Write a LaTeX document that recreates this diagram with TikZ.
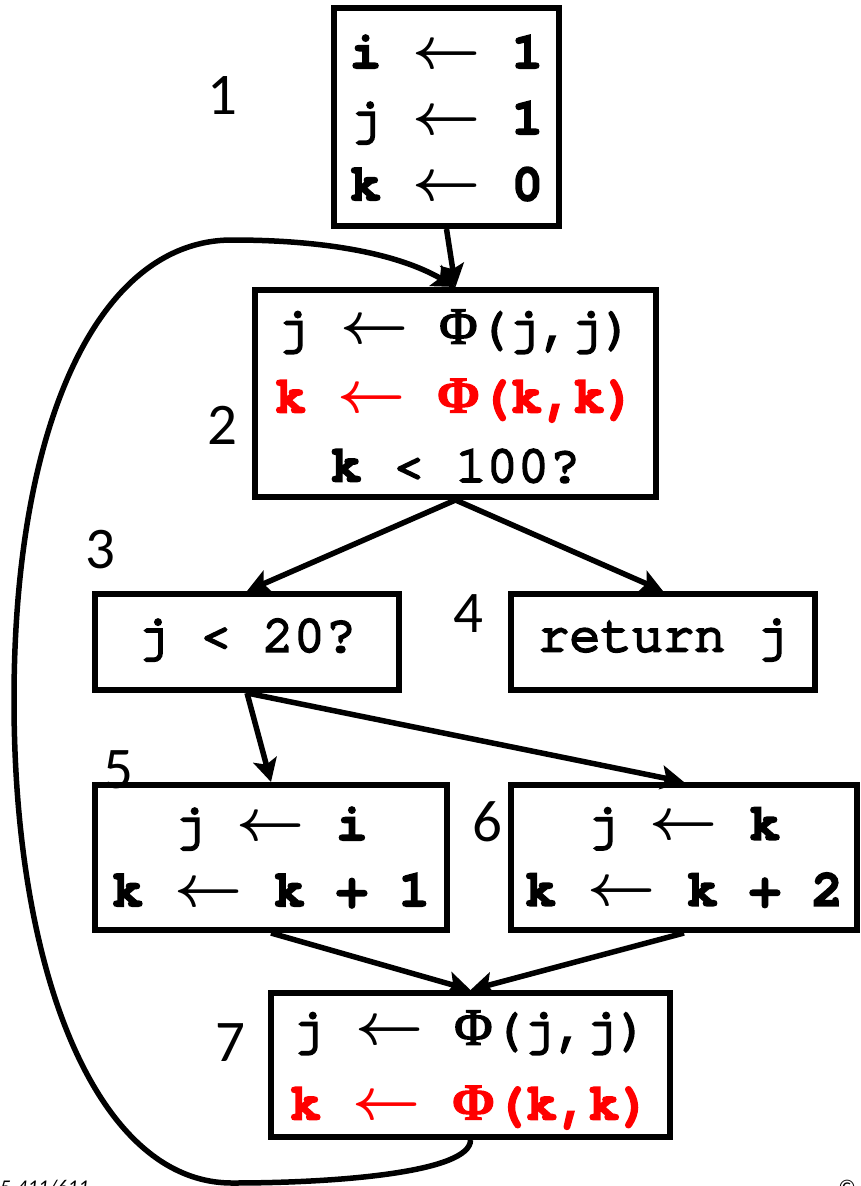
\RequirePackage{fix-cm}
\documentclass[tikz,border=0pt]{standalone}
\usepackage{graphicx}
\usepackage{fontspec}
\setmonofont{TeX Gyre Cursor}[UprightFeatures={FakeBold=5}, BoldFeatures={FakeBold=3}]
\newfontfamily\phifont{Liberation Serif}[UprightFeatures={FakeBold=3}, BoldFeatures={FakeBold=2}]
\newfontfamily\labelfont{Carlito}
\usetikzlibrary{arrows.meta}
% assignment arrows and phi functions
\newcommand{\la}{\scalebox{1.14}{\boldmath$\leftarrow$}}
\newcommand{\phiR}{{\phifont\mdseries Φ}}
\newcommand{\phiB}{{\phifont\bfseries Φ}}
\tikzset{
  blk/.style={draw, line width=6pt, inner sep=0pt},
  code/.style={inner sep=0pt, align=center,
    font=\fontsize{52}{66}\selectfont\ttfamily},
  num/.style={inner sep=0pt, font=\labelfont\fontsize{59}{62}\selectfont},
  flow/.style={line width=5.5pt, -{Stealth[length=23pt, width=24pt, inset=5pt]}},
  foot/.style={inner sep=0pt, font=\labelfont\itshape\fontsize{21}{24}\selectfont}
}
\begin{document}
\begin{tikzpicture}[x=1pt, y=-1pt]
\useasboundingbox (0,0) rectangle (860,1186);

% basic blocks
\node[blk, minimum width=225pt, minimum height=218pt] (b1) at (446.5,117) {};
\node[blk, minimum width=401pt, minimum height=207pt] (b2) at (455.5,393.5) {};
\node[blk, minimum width=304pt, minimum height=96pt] (b3) at (247,642) {};
\node[blk, minimum width=304pt, minimum height=96pt] (b4) at (663,642) {};
\node[blk, minimum width=352pt, minimum height=145pt] (b5) at (271,857.5) {};
\node[blk, minimum width=346pt, minimum height=145pt] (b6) at (684,857.5) {};
\node[blk, minimum width=399pt, minimum height=144pt] (b7) at (470.5,1065) {};

% block contents
\node[code] (t1) at (446.5,118)
  {\textbf{i} \la{} \textbf{1}\\ j \la{} \textbf{1}\\ \textbf{k} \la{} \textbf{0}};
\node[code, font=\fontsize{52}{69}\selectfont\ttfamily] (t2) at (455.5,396)
  {j \la{} \phiR(j,j)\\ {\color{red}\bfseries k \la{} \phiB(k,k)}\\ \textbf{k} < 100?};
\node[code] (t3) at (247,640) {j < 20?};
\node[code] (t4) at (663,640) {return j};
\node[code] (t5) at (271,857.5) {j \la{} \textbf{i}\\ \textbf{k} \la{} \textbf{k + 1}};
\node[code] (t6) at (684,857.5) {j \la{} \textbf{k}\\ \textbf{k} \la{} \textbf{k + 2}};
\node[code, font=\fontsize{52}{75}\selectfont\ttfamily] (t7) at (470.5,1070)
  {j \la{} \phiR(j,j)\\ {\color{red}\bfseries k \la{} \phiB(k,k)}};

% block numbers
\node[num] (n1) at (222,96) {1};
\node[num] (n2) at (222,425) {2};
\node[num] (n3) at (100,550) {3};
\node[num] (n4) at (468,614) {4};
\node[num] (n5) at (118,770) {5};
\node[num] (n6) at (487,822) {6};
\node[num] (n7) at (230,1043) {7};

% control flow edges
\draw[flow] (b1.south) -- (b2.north);
\draw[flow] (b2.south) -- (b3.north);
\draw[flow] (b2.south) -- (b4.north);
\draw[flow] (b3.south) -- (b5.north);
\draw[flow] (b3.south) -- (b6.north);
\draw[flow] (b5.south) -- (b7.north);
\draw[flow] (b6.south) -- (b7.north);

% back edge of the loop
\coordinate (lb) at (232,1183);
\coordinate (ll) at (14,700);
\coordinate (lt) at (232,240);
\draw[flow] (b7.south) .. controls +(0,32) and (340,1183) .. (lb)
  .. controls (100,1183) and (14,980) .. (ll)
  .. controls (14,420) and (100,240) .. (lt)
  .. controls (330,240) and (400,255) .. (b2.north);

% footer
\node[foot, anchor=base west] (fl) at (-11,1194) {15-411/611};
\node[foot, anchor=base west] (fr) at (838,1194) {©};
\end{tikzpicture}
\end{document}
